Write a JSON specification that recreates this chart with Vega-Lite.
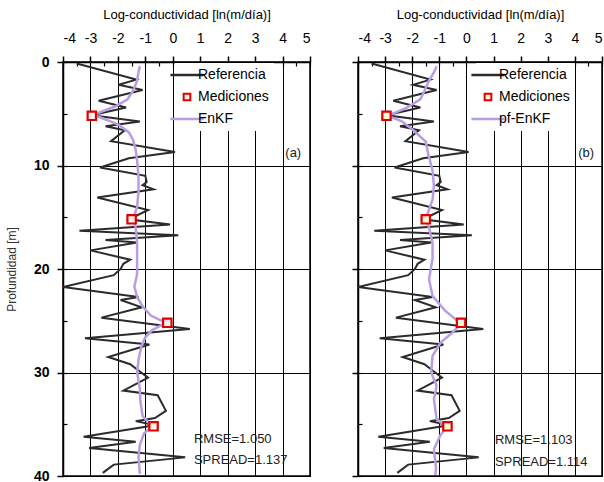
{
  "$schema": "https://vega.github.io/schema/vega-lite/v6.json",
  "padding": {"left": 4, "top": 7, "right": 0, "bottom": 2},
  "background": "white",
  "spacing": 38,
  "config": {
    "font": "Liberation Sans",
    "view": {"stroke": "black", "strokeWidth": 1.5},
    "axis": {"labelFont": "Liberation Sans", "titleFont": "Liberation Sans", "titleFontWeight": "normal", "domainColor": "black", "tickColor": "black", "labelColor": "black", "gridColor": "black", "gridOpacity": 1}
  },
  "datasets": {
    "ref": [
      {"v": -3.5, "d": 0.15}, {"v": -1.33, "d": 1.7}, {"v": -1.97, "d": 2.2}, {"v": -1.1, "d": 2.7},
      {"v": -2.7, "d": 3.75}, {"v": -1.7, "d": 4.4}, {"v": -2.95, "d": 5.15}, {"v": -1.2, "d": 5.75},
      {"v": -2.45, "d": 6.2}, {"v": -1.75, "d": 6.6}, {"v": -2.25, "d": 7.65}, {"v": 0.08, "d": 8.7},
      {"v": -1.6, "d": 9.3}, {"v": -2.65, "d": 10.2}, {"v": -1.0, "d": 11.0}, {"v": -0.95, "d": 11.6},
      {"v": -1.1, "d": 11.9}, {"v": -0.7, "d": 12.3}, {"v": -2.75, "d": 13.1}, {"v": -0.9, "d": 14.3},
      {"v": -1.6, "d": 15.2}, {"v": -0.1, "d": 15.7}, {"v": -3.4, "d": 16.3}, {"v": 0.2, "d": 16.75},
      {"v": -2.45, "d": 17.2}, {"v": -1.3, "d": 17.45}, {"v": -3.0, "d": 18.2}, {"v": -1.55, "d": 19.1},
      {"v": -1.8, "d": 19.5}, {"v": -1.9, "d": 20.0}, {"v": -2.15, "d": 20.6}, {"v": -4.0, "d": 21.75},
      {"v": -1.25, "d": 22.7}, {"v": -1.9, "d": 23.0}, {"v": -1.13, "d": 23.7}, {"v": -2.6, "d": 24.7},
      {"v": 0.62, "d": 25.8}, {"v": -3.2, "d": 26.7}, {"v": -0.85, "d": 27.3}, {"v": -2.35, "d": 28.5},
      {"v": -1.55, "d": 29.2}, {"v": -1.2, "d": 29.9}, {"v": -0.9, "d": 30.5}, {"v": -1.8, "d": 31.75},
      {"v": -0.55, "d": 32.2}, {"v": -0.25, "d": 33.7}, {"v": -0.65, "d": 34.4}, {"v": -1.35, "d": 34.7},
      {"v": -0.65, "d": 35.1}, {"v": -3.25, "d": 36.2}, {"v": -1.35, "d": 36.7}, {"v": -3.05, "d": 37.3},
      {"v": 0.45, "d": 38.2}, {"v": -2.15, "d": 38.9}, {"v": -2.55, "d": 39.7}
    ],
    "enkf": [
      {"v": -1.2, "d": 0.4}, {"v": -1.25, "d": 1.0}, {"v": -1.3, "d": 1.8}, {"v": -1.45, "d": 2.8},
      {"v": -1.65, "d": 3.6}, {"v": -2.1, "d": 4.3}, {"v": -2.9, "d": 5.1}, {"v": -2.4, "d": 5.6},
      {"v": -1.95, "d": 6.1}, {"v": -1.6, "d": 6.8}, {"v": -1.45, "d": 7.5}, {"v": -1.35, "d": 8.5},
      {"v": -1.3, "d": 9.5}, {"v": -1.25, "d": 11.0}, {"v": -1.25, "d": 12.5}, {"v": -1.3, "d": 14.0},
      {"v": -1.45, "d": 15.2}, {"v": -1.35, "d": 16.0}, {"v": -1.3, "d": 17.5}, {"v": -1.3, "d": 19.0},
      {"v": -1.3, "d": 20.5}, {"v": -1.4, "d": 21.7}, {"v": -1.3, "d": 22.7}, {"v": -1.1, "d": 23.6},
      {"v": -0.8, "d": 24.5}, {"v": -0.25, "d": 25.2}, {"v": -0.75, "d": 25.9}, {"v": -1.0, "d": 26.6},
      {"v": -1.15, "d": 27.5}, {"v": -1.25, "d": 28.8}, {"v": -1.3, "d": 30.0}, {"v": -1.2, "d": 31.5},
      {"v": -1.18, "d": 32.8}, {"v": -1.1, "d": 34.2}, {"v": -0.75, "d": 35.2}, {"v": -1.05, "d": 35.9},
      {"v": -1.2, "d": 37.0}, {"v": -1.25, "d": 38.2}, {"v": -1.2, "d": 39.8}
    ],
    "pfenkf": [
      {"v": -1.1, "d": 0.4}, {"v": -1.2, "d": 1.0}, {"v": -1.38, "d": 1.8}, {"v": -1.55, "d": 2.8},
      {"v": -1.7, "d": 3.6}, {"v": -2.2, "d": 4.4}, {"v": -2.9, "d": 5.2}, {"v": -2.4, "d": 5.7},
      {"v": -2.0, "d": 6.5}, {"v": -1.5, "d": 7.7}, {"v": -1.4, "d": 9.0}, {"v": -1.25, "d": 10.5},
      {"v": -1.2, "d": 12.0}, {"v": -1.25, "d": 13.3}, {"v": -1.4, "d": 14.4}, {"v": -1.5, "d": 15.2},
      {"v": -1.38, "d": 16.0}, {"v": -1.25, "d": 17.5}, {"v": -1.25, "d": 19.0}, {"v": -1.38, "d": 21.0},
      {"v": -1.25, "d": 22.6}, {"v": -0.8, "d": 24.0}, {"v": -0.2, "d": 25.3}, {"v": -0.5, "d": 26.1},
      {"v": -0.95, "d": 27.1}, {"v": -1.25, "d": 28.4}, {"v": -1.3, "d": 30.0}, {"v": -1.1, "d": 31.3},
      {"v": -1.2, "d": 32.6}, {"v": -1.1, "d": 34.5}, {"v": -0.72, "d": 35.3}, {"v": -0.95, "d": 36.0},
      {"v": -1.2, "d": 37.4}, {"v": -1.12, "d": 39.3}, {"v": -1.15, "d": 39.9}
    ],
    "meas": [
      {"v": -2.95, "d": 5.2}, {"v": -1.5, "d": 15.2}, {"v": -0.2, "d": 25.2}, {"v": -0.7, "d": 35.2}
    ],
    "notes_a": [
      {"v": 4.1, "d": 8.8, "t": "(a)"}, {"v": 0.77, "d": 36.4, "t": "RMSE=1.050"}, {"v": 0.77, "d": 38.5, "t": "SPREAD=1.137"}
    ],
    "notes_b": [
      {"v": 4.12, "d": 8.8, "t": "(b)"}, {"v": 1.05, "d": 36.5, "t": "RMSE=1.103"}, {"v": 1.05, "d": 38.6, "t": "SPREAD=1.114"}
    ]
  },
  "hconcat": [
    {
      "width": 247,
      "height": 414,
      "layer": [
        {
          "data": {"name": "ref"},
          "mark": {"type": "line", "strokeWidth": 2, "clip": true},
          "encoding": {
            "x": {"field": "v", "type": "quantitative", "scale": {"domain": [-4, 5], "nice": false},
              "axis": {"orient": "top", "title": "Log-conductividad [ln(m/día)]", "titleFontSize": 13, "titlePadding": 10, "values": [-4, -3, -2, -1, 0, 1, 2, 3, 4, 5], "labelExpr": "'' + datum.value", "labelFontSize": 14, "labelPadding": 11, "tickSize": 6, "tickWidth": 1.5, "domainWidth": 1.5, "grid": true, "gridWidth": 1}},
            "y": {"field": "d", "type": "quantitative", "scale": {"domain": [0, 40], "reverse": true, "nice": false},
              "axis": {"orient": "left", "title": "Profundidad [m]", "titleFontSize": 12, "titleColor": "#333", "titlePadding": 15, "values": [0, 10, 20, 30, 40], "labelFontSize": 14, "labelFontWeight": "bold", "labelPadding": 8, "tickSize": 6, "tickWidth": 1.5, "domainWidth": 1.5, "grid": true, "gridWidth": 1}},
            "order": {"field": "d", "type": "quantitative"},
            "color": {"datum": "Referencia", "type": "nominal",
              "scale": {"domain": ["Referencia", "Mediciones", "EnKF"], "range": ["#2b2b2b", "#e00000", "#b89de4"]},
              "legend": {"orient": "none", "legendX": 112, "legendY": 1, "title": null, "fillColor": "white", "padding": 5, "labelFontSize": 14, "labelFont": "Liberation Sans", "labelColor": "black", "labelOffset": 4, "rowPadding": 7, "symbolSize": 1100,
                "encode": {"symbols": {"update": {
                  "shape": {"signal": "datum.value === 'Mediciones' ? 'square' : 'stroke'"},
                  "size": {"signal": "datum.value === 'Mediciones' ? 45 : 1100"},
                  "strokeWidth": {"signal": "datum.value === 'Mediciones' ? 2 : 2.5"},
                  "fill": {"signal": "datum.value === 'Mediciones' ? '#fff0f0' : 'transparent'"},
                  "stroke": {"signal": "datum.value === 'Referencia' ? '#2b2b2b' : datum.value === 'Mediciones' ? '#e00000' : '#b89de4'"},
                  "opacity": {"value": 1}
                }}}}}
          }
        },
        {
          "data": {"name": "enkf"},
          "mark": {"type": "line", "strokeWidth": 2.5},
          "encoding": {
            "x": {"field": "v", "type": "quantitative", "axis": {"orient": "top", "title": null, "labels": false, "domain": false, "grid": false, "tickSize": -4, "tickWidth": 1.2, "values": [-4, -3.5, -3, -2.5, -2, -1.5, -1, -0.5, 0, 0.5, 1, 1.5, 2, 2.5, 3, 3.5, 4, 4.5, 5]}},
            "y": {"field": "d", "type": "quantitative", "axis": {"orient": "left", "title": null, "labels": false, "domain": false, "grid": false, "tickSize": -4, "tickWidth": 1.2, "values": [0, 5, 10, 15, 20, 25, 30, 35, 40]}},
            "order": {"field": "d", "type": "quantitative"},
            "color": {"datum": "EnKF", "type": "nominal"}
          }
        },
        {
          "data": {"name": "meas"},
          "mark": {"type": "point", "shape": "square", "filled": false, "fill": "#fff0f0", "strokeWidth": 2.2, "size": 70, "opacity": 1},
          "encoding": {
            "x": {"field": "v", "type": "quantitative", "axis": null},
            "y": {"field": "d", "type": "quantitative", "axis": null},
            "color": {"datum": "Mediciones", "type": "nominal"}
          }
        },
        {
          "data": {"name": "notes_a"},
          "mark": {"type": "text", "align": "left", "baseline": "middle", "fontSize": 13, "font": "Liberation Sans", "color": "#222"},
          "encoding": {
            "x": {"field": "v", "type": "quantitative", "axis": null},
            "y": {"field": "d", "type": "quantitative", "axis": null},
            "text": {"field": "t"}
          }
        }
      ],
      "resolve": {"axis": {"x": "independent", "y": "independent"}}
    },
    {
      "width": 244,
      "height": 414,
      "layer": [
        {
          "data": {"name": "ref"},
          "mark": {"type": "line", "strokeWidth": 2, "clip": true},
          "encoding": {
            "x": {"field": "v", "type": "quantitative", "scale": {"domain": [-4, 5], "nice": false},
              "axis": {"orient": "top", "title": "Log-conductividad [ln(m/día)]", "titleFontSize": 13, "titlePadding": 10, "values": [-4, -3, -2, -1, 0, 1, 2, 3, 4, 5], "labelExpr": "'' + datum.value", "labelFontSize": 14, "labelPadding": 11, "tickSize": 6, "tickWidth": 1.5, "domainWidth": 1.5, "grid": true, "gridWidth": 1}},
            "y": {"field": "d", "type": "quantitative", "scale": {"domain": [0, 40], "reverse": true, "nice": false},
              "axis": {"orient": "left", "title": null, "labels": false, "values": [0, 10, 20, 30, 40], "tickSize": 6, "tickWidth": 1.5, "domainWidth": 1.5, "grid": true, "gridWidth": 1}},
            "order": {"field": "d", "type": "quantitative"},
            "color": {"datum": "Referencia", "type": "nominal",
              "scale": {"domain": ["Referencia", "Mediciones", "pf-EnKF"], "range": ["#2b2b2b", "#e00000", "#b89de4"]},
              "legend": {"orient": "none", "legendX": 118, "legendY": 1, "title": null, "fillColor": "white", "padding": 5, "labelFontSize": 14, "labelFont": "Liberation Sans", "labelColor": "black", "labelOffset": 4, "rowPadding": 7, "symbolSize": 1100,
                "encode": {"symbols": {"update": {
                  "shape": {"signal": "datum.value === 'Mediciones' ? 'square' : 'stroke'"},
                  "size": {"signal": "datum.value === 'Mediciones' ? 45 : 1100"},
                  "strokeWidth": {"signal": "datum.value === 'Mediciones' ? 2 : 2.5"},
                  "fill": {"signal": "datum.value === 'Mediciones' ? '#fff8d8' : 'transparent'"},
                  "stroke": {"signal": "datum.value === 'Referencia' ? '#2b2b2b' : datum.value === 'Mediciones' ? '#e00000' : '#b89de4'"},
                  "opacity": {"value": 1}
                }}}}}
          }
        },
        {
          "data": {"name": "pfenkf"},
          "mark": {"type": "line", "strokeWidth": 2.5},
          "encoding": {
            "x": {"field": "v", "type": "quantitative", "axis": {"orient": "top", "title": null, "labels": false, "domain": false, "grid": false, "tickSize": -4, "tickWidth": 1.2, "values": [-4, -3.5, -3, -2.5, -2, -1.5, -1, -0.5, 0, 0.5, 1, 1.5, 2, 2.5, 3, 3.5, 4, 4.5, 5]}},
            "y": {"field": "d", "type": "quantitative", "axis": {"orient": "left", "title": null, "labels": false, "domain": false, "grid": false, "tickSize": -4, "tickWidth": 1.2, "values": [0, 5, 10, 15, 20, 25, 30, 35, 40]}},
            "order": {"field": "d", "type": "quantitative"},
            "color": {"datum": "pf-EnKF", "type": "nominal"}
          }
        },
        {
          "data": {"name": "meas"},
          "mark": {"type": "point", "shape": "square", "filled": false, "fill": "#fff8d8", "strokeWidth": 2.2, "size": 70, "opacity": 1},
          "encoding": {
            "x": {"field": "v", "type": "quantitative", "axis": null},
            "y": {"field": "d", "type": "quantitative", "axis": null},
            "color": {"datum": "Mediciones", "type": "nominal"}
          }
        },
        {
          "data": {"name": "notes_b"},
          "mark": {"type": "text", "align": "left", "baseline": "middle", "fontSize": 13, "font": "Liberation Sans", "color": "#222"},
          "encoding": {
            "x": {"field": "v", "type": "quantitative", "axis": null},
            "y": {"field": "d", "type": "quantitative", "axis": null},
            "text": {"field": "t"}
          }
        }
      ],
      "resolve": {"axis": {"x": "independent", "y": "independent"}}
    }
  ],
  "resolve": {"scale": {"color": "independent"}, "legend": {"color": "independent"}}
}
